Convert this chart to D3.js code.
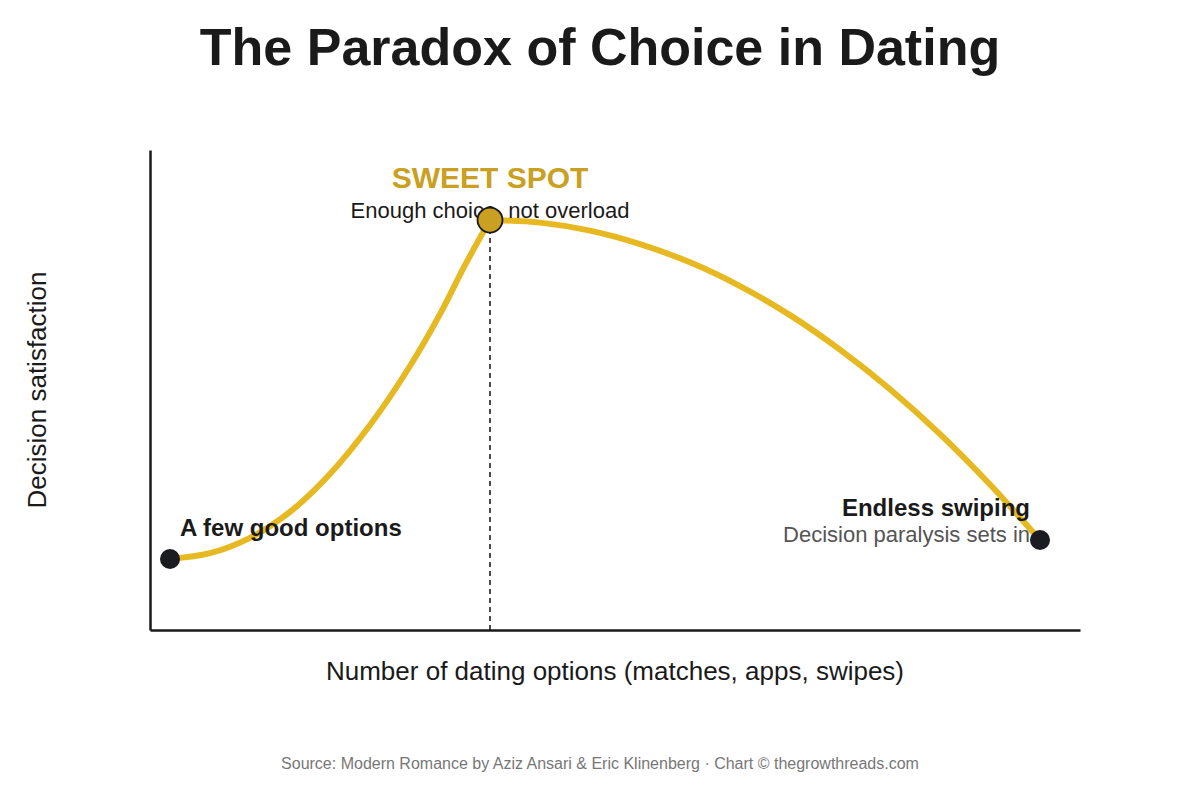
<!DOCTYPE html>
<html>
<head>
<meta charset="utf-8">
<script src="https://cdn.jsdelivr.net/npm/d3@7"></script>
<style>
  html, body { margin: 0; padding: 0; background: #fff; }
  svg { display: block; font-family: "Liberation Sans", Arial, Helvetica, sans-serif; }
</style>
</head>
<body>
<svg id="chart" width="1200" height="800"></svg>
<script>
// Curve (x: number of options, y: satisfaction, 0-100 scales)
const optionsX = [2.15, 6.45, 10.75, 15.05, 19.35, 23.66, 27.96, 31.18, 33.87, 36.56, 41.94, 47.31, 52.69, 58.06, 63.44, 68.82, 74.19, 79.57, 84.95, 90.32, 95.7];
const satisfactionY = [14.8, 16.0, 19.2, 24.6, 32.5, 42.7, 55.0, 65.8, 76.0, 85.4, 84.87, 83.2, 80.4, 76.6, 71.65, 65.6, 58.4, 50.15, 40.8, 30.3, 18.75];
const peakIndex = 9;

// Annotated points
const keyPointNames = ["few", "sweet", "endless"];
const keyPointX = [2.15, 36.56, 95.7];
const keyPointY = [14.8, 85.4, 18.75];

const titleText = "The Paradox of Choice in Dating";
const xLabel = "Number of dating options (matches, apps, swipes)";
const yLabel = "Decision satisfaction";
const sourceText = "Source: Modern Romance by Aziz Ansari & Eric Klinenberg · Chart © thegrowthreads.com";

const svg = d3.select("#chart");
const W = 1200, H = 800;
const m = { left: 150, right: 120, top: 150, bottom: 170 };

const x = d3.scaleLinear().domain([0, 100]).range([m.left, W - m.right]);
const y = d3.scaleLinear().domain([0, 100]).range([H - m.bottom, m.top]);

// Title
svg.append("text")
  .attr("x", 600).attr("y", 65)
  .attr("text-anchor", "middle")
  .attr("font-size", 52).attr("font-weight", "bold")
  .attr("fill", "#1a1a1a")
  .text(titleText);

// Axes (lines only)
svg.append("g")
  .attr("transform", `translate(0,${y(0)})`)
  .call(d3.axisBottom(x).ticks(0).tickSize(0).tickSizeOuter(0))
  .call(g => g.select(".domain").attr("stroke", "#1a1a1a").attr("stroke-width", 2.5));
svg.append("g")
  .attr("transform", `translate(${x(0)},0)`)
  .call(d3.axisLeft(y).ticks(0).tickSize(0).tickSizeOuter(0))
  .call(g => g.select(".domain").attr("stroke", "#1a1a1a").attr("stroke-width", 2.5));

// Dashed line at sweet spot
svg.append("line")
  .attr("x1", x(keyPointX[1])).attr("x2", x(keyPointX[1]))
  .attr("y1", y(keyPointY[1])).attr("y2", y(0))
  .attr("stroke", "#111").attr("stroke-width", 1.5)
  .attr("stroke-dasharray", "5,4");

// Curve (rising and falling parts meet at the sweet spot)
const pts = optionsX.map((v, i) => [v, satisfactionY[i]]);
const segments = [pts.slice(0, peakIndex + 1), pts.slice(peakIndex)];
const line = d3.line()
  .x(d => x(d[0])).y(d => y(d[1]))
  .curve(d3.curveCatmullRom.alpha(0.5));
svg.selectAll("path.curve")
  .data(segments)
  .join("path")
  .attr("class", "curve")
  .attr("d", line)
  .attr("fill", "none")
  .attr("stroke", "#E6B922")
  .attr("stroke-width", 6)
  .attr("stroke-linecap", "round")
  .attr("stroke-linejoin", "round");

// End dots
svg.append("circle").attr("cx", x(keyPointX[0])).attr("cy", y(keyPointY[0])).attr("r", 10).attr("fill", "#1b1b22");
svg.append("circle").attr("cx", x(keyPointX[2])).attr("cy", y(keyPointY[2])).attr("r", 10).attr("fill", "#1b1b22");

// Annotations
svg.append("text")
  .attr("x", x(keyPointX[1])).attr("y", 188)
  .attr("text-anchor", "middle")
  .attr("font-size", 30).attr("font-weight", "bold")
  .attr("fill", "#C9A022")
  .text("SWEET SPOT");
svg.append("text")
  .attr("x", x(keyPointX[1])).attr("y", 218)
  .attr("text-anchor", "middle")
  .attr("font-size", 22)
  .attr("fill", "#1a1a1a")
  .text("Enough choice, not overload");

// Sweet spot dot (drawn over the subtitle like the reference)
svg.append("circle").attr("cx", x(keyPointX[1])).attr("cy", y(keyPointY[1])).attr("r", 12.5)
  .attr("fill", "#C9A022").attr("stroke", "#1a1a1a").attr("stroke-width", 1.8);

svg.append("text")
  .attr("x", x(keyPointX[0]) + 10).attr("y", 536)
  .attr("font-size", 24).attr("font-weight", "bold")
  .attr("fill", "#1a1a1a")
  .text("A few good options");

svg.append("text")
  .attr("x", x(keyPointX[2]) - 10).attr("y", 516)
  .attr("text-anchor", "end")
  .attr("font-size", 24).attr("font-weight", "bold")
  .attr("fill", "#1a1a1a")
  .text("Endless swiping");
svg.append("text")
  .attr("x", x(keyPointX[2]) - 10).attr("y", 542)
  .attr("text-anchor", "end")
  .attr("font-size", 22)
  .attr("fill", "#555")
  .text("Decision paralysis sets in");

// Axis labels
svg.append("text")
  .attr("x", (m.left + W - m.right) / 2).attr("y", 680)
  .attr("text-anchor", "middle")
  .attr("font-size", 26)
  .attr("fill", "#1a1a1a")
  .text(xLabel);
svg.append("text")
  .attr("transform", `translate(46,${(m.top + H - m.bottom) / 2}) rotate(-90)`)
  .attr("text-anchor", "middle")
  .attr("font-size", 26)
  .attr("fill", "#1a1a1a")
  .text(yLabel);

// Source
svg.append("text")
  .attr("x", 600).attr("y", 769)
  .attr("text-anchor", "middle")
  .attr("font-size", 16)
  .attr("fill", "#777")
  .text(sourceText);
</script>
</body>
</html>
